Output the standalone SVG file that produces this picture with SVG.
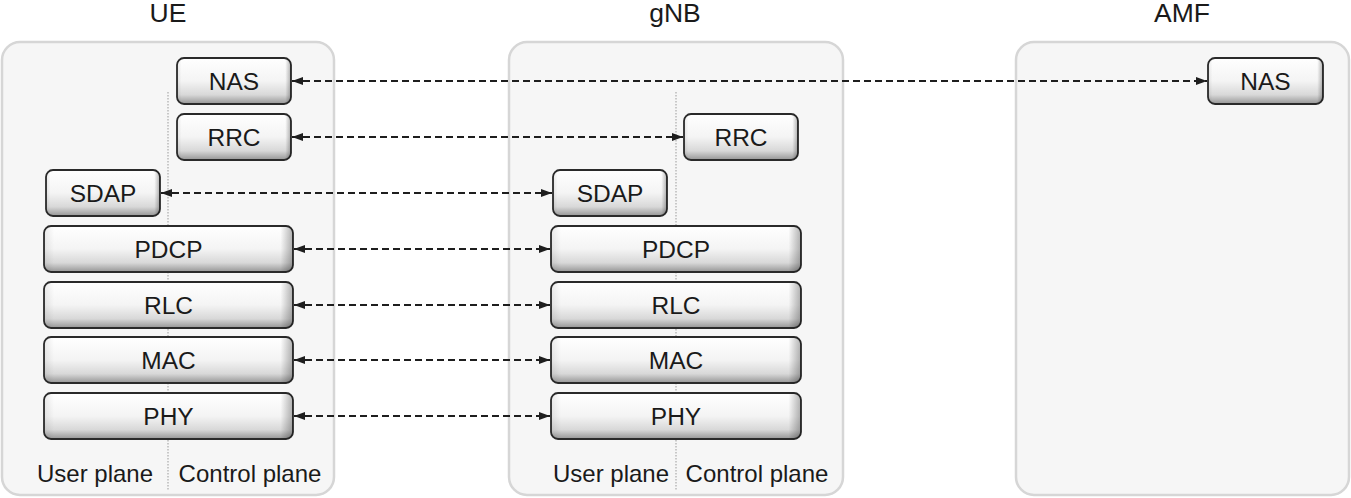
<svg xmlns="http://www.w3.org/2000/svg" width="1351" height="498" viewBox="0 0 1351 498">
<defs>
<linearGradient id="gv" x1="0" y1="0" x2="0" y2="1">
<stop offset="0" stop-color="#ffffff"/>
<stop offset="0.5" stop-color="#f4f4f4"/>
<stop offset="0.8" stop-color="#d8d8d8"/>
<stop offset="1" stop-color="#959595"/>
</linearGradient>
<linearGradient id="gh" x1="0" y1="0" x2="1" y2="0">
<stop offset="0" stop-color="#000" stop-opacity="0.08"/>
<stop offset="0.04" stop-color="#000" stop-opacity="0"/>
<stop offset="0.95" stop-color="#000" stop-opacity="0"/>
<stop offset="1" stop-color="#000" stop-opacity="0.3"/>
</linearGradient>
<marker id="arr" viewBox="0 0 11 8" refX="11" refY="4" markerWidth="11" markerHeight="8" markerUnits="userSpaceOnUse" orient="auto-start-reverse">
<path d="M0,0 L11,4 L0,8 z" fill="#1e1e1e"/>
</marker>
</defs>
<style>
.cont{fill:#f6f6f6;stroke:#d6d6d6;stroke-width:2.5}
.title{font-family:"Liberation Sans",Arial,sans-serif;font-size:26.5px;fill:#1a1a1a;text-anchor:middle}
.plane{font-family:"Liberation Sans",Arial,sans-serif;font-size:24px;fill:#1a1a1a;text-anchor:middle}
.div{stroke:#9a9a9a;stroke-width:1;stroke-dasharray:1.5,1.5;fill:none}
.box{fill:url(#gv);stroke:#2a2a2a;stroke-width:1.8}
.shade{fill:url(#gh);stroke:none}
.lbl{font-family:"Liberation Sans",Arial,sans-serif;font-size:24.5px;fill:#1a1a1a;text-anchor:middle}
.conn{stroke:#1e1e1e;stroke-width:1.8;stroke-dasharray:7,4;fill:none;marker-start:url(#arr);marker-end:url(#arr)}
</style>

<g id="ue">
<rect class="cont" x="2" y="42" width="332" height="453" rx="18"/>
<text class="title" x="168" y="22">UE</text>
<line class="div" x1="168" y1="92" x2="168" y2="490"/>
<text class="plane" x="95" y="482">User plane</text>
<text class="plane" x="250" y="482">Control plane</text>
</g>
<g id="gnb">
<rect class="cont" x="509" y="42" width="334" height="453" rx="18"/>
<text class="title" x="675" y="22">gNB</text>
<line class="div" x1="676" y1="92" x2="676" y2="490"/>
<text class="plane" x="611" y="482">User plane</text>
<text class="plane" x="757" y="482">Control plane</text>
</g>
<g id="amf">
<rect class="cont" x="1016" y="42" width="333" height="453" rx="18"/>
<text class="title" x="1182" y="22">AMF</text>
</g>

<g id="ue-nas"><rect class="box" x="177" y="58" width="114" height="46" rx="7"/><rect class="shade" x="177" y="58" width="114" height="46" rx="7"/><text class="lbl" x="234" y="89.5">NAS</text></g>
<g id="ue-rrc"><rect class="box" x="177" y="114" width="114" height="46" rx="7"/><rect class="shade" x="177" y="114" width="114" height="46" rx="7"/><text class="lbl" x="234" y="145.5">RRC</text></g>
<g id="ue-sdap"><rect class="box" x="46" y="170" width="114" height="46" rx="7"/><rect class="shade" x="46" y="170" width="114" height="46" rx="7"/><text class="lbl" x="103" y="201.5">SDAP</text></g>
<g id="ue-pdcp"><rect class="box" x="44" y="226" width="249" height="46" rx="7"/><rect class="shade" x="44" y="226" width="249" height="46" rx="7"/><text class="lbl" x="168.5" y="257.5">PDCP</text></g>
<g id="ue-rlc"><rect class="box" x="44" y="282" width="249" height="46" rx="7"/><rect class="shade" x="44" y="282" width="249" height="46" rx="7"/><text class="lbl" x="168.5" y="313.5">RLC</text></g>
<g id="ue-mac"><rect class="box" x="44" y="337" width="249" height="46" rx="7"/><rect class="shade" x="44" y="337" width="249" height="46" rx="7"/><text class="lbl" x="168.5" y="368.5">MAC</text></g>
<g id="ue-phy"><rect class="box" x="44" y="393" width="249" height="46" rx="7"/><rect class="shade" x="44" y="393" width="249" height="46" rx="7"/><text class="lbl" x="168.5" y="424.5">PHY</text></g>

<g id="gnb-rrc"><rect class="box" x="684" y="114" width="114" height="46" rx="7"/><rect class="shade" x="684" y="114" width="114" height="46" rx="7"/><text class="lbl" x="741" y="145.5">RRC</text></g>
<g id="gnb-sdap"><rect class="box" x="553" y="170" width="114" height="46" rx="7"/><rect class="shade" x="553" y="170" width="114" height="46" rx="7"/><text class="lbl" x="610" y="201.5">SDAP</text></g>
<g id="gnb-pdcp"><rect class="box" x="551" y="226" width="250" height="46" rx="7"/><rect class="shade" x="551" y="226" width="250" height="46" rx="7"/><text class="lbl" x="676" y="257.5">PDCP</text></g>
<g id="gnb-rlc"><rect class="box" x="551" y="282" width="250" height="46" rx="7"/><rect class="shade" x="551" y="282" width="250" height="46" rx="7"/><text class="lbl" x="676" y="313.5">RLC</text></g>
<g id="gnb-mac"><rect class="box" x="551" y="337" width="250" height="46" rx="7"/><rect class="shade" x="551" y="337" width="250" height="46" rx="7"/><text class="lbl" x="676" y="368.5">MAC</text></g>
<g id="gnb-phy"><rect class="box" x="551" y="393" width="250" height="46" rx="7"/><rect class="shade" x="551" y="393" width="250" height="46" rx="7"/><text class="lbl" x="676" y="424.5">PHY</text></g>

<g id="amf-nas"><rect class="box" x="1208" y="58" width="115" height="46" rx="7"/><rect class="shade" x="1208" y="58" width="115" height="46" rx="7"/><text class="lbl" x="1265.5" y="89.5">NAS</text></g>

<g id="connectors">
<line class="conn" x1="292" y1="81" x2="1207" y2="81"/>
<line class="conn" x1="292" y1="137" x2="683" y2="137"/>
<line class="conn" x1="161" y1="193" x2="552" y2="193"/>
<line class="conn" x1="294" y1="249" x2="550" y2="249"/>
<line class="conn" x1="294" y1="305" x2="550" y2="305"/>
<line class="conn" x1="294" y1="360" x2="550" y2="360"/>
<line class="conn" x1="294" y1="416" x2="550" y2="416"/>
</g>
</svg>
